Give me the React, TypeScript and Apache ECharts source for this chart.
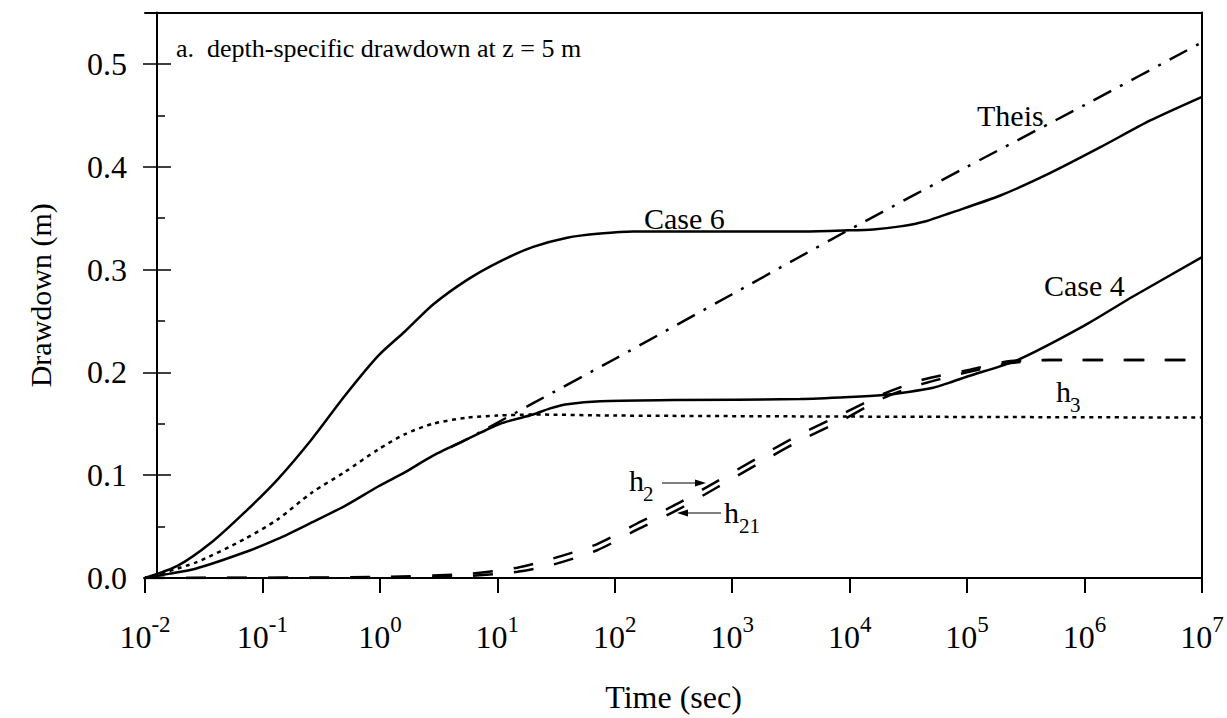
import React, { useEffect, useRef } from "react";
import * as echarts from "echarts";

// ---- data (time given as log10 of seconds, drawdown in metres) ----
const case6LogT = [-2, -1.72, -1.43, -1.15, -0.87, -0.58, -0.3, -0.015, 0.215, 0.453, 0.743, 1.024, 1.305, 1.595, 1.876, 2.157, 3.0, 3.58, 3.946, 4.2, 4.431, 4.65, 4.857, 5.283, 5.709, 6.135, 6.56, 7.0];
const case6Val = [0, 0.012, 0.035, 0.064, 0.096, 0.135, 0.177, 0.216, 0.24, 0.266, 0.29, 0.308, 0.322, 0.331, 0.335, 0.337, 0.337, 0.337, 0.338, 0.339, 0.342, 0.347, 0.355, 0.372, 0.394, 0.419, 0.445, 0.468];

const case4LogT = [-2, -1.8, -1.57, -1.15, -0.87, -0.58, -0.3, -0.015, 0.215, 0.453, 0.743, 1.024, 1.305, 1.45, 1.595, 1.876, 2.5, 3.58, 4.0, 4.286, 4.5, 4.712, 4.85, 5.002, 5.428, 5.99, 6.416, 7.0];
const case4Val = [0, 0.004, 0.009, 0.025, 0.038, 0.054, 0.07, 0.089, 0.103, 0.119, 0.135, 0.15, 0.159, 0.165, 0.169, 0.172, 0.173, 0.174, 0.176, 0.178, 0.181, 0.185, 0.19, 0.196, 0.212, 0.245, 0.274, 0.312];

const h3LogT = [-2, -1.57, -1.15, -0.87, -0.58, -0.3, -0.015, 0.215, 0.45, 0.74, 1.0, 1.3, 2.0, 4.0, 7.0];
const h3Val = [0, 0.015, 0.038, 0.057, 0.083, 0.103, 0.125, 0.14, 0.15, 0.156, 0.158, 0.159, 0.158, 0.157, 0.156];

const theisLogT = [0.6, 0.743, 1.0, 1.305, 2.0, 3.0, 3.553, 4.0, 4.116, 5.0, 6.0, 7.0];
const theisVal = [0.127, 0.135, 0.151, 0.17, 0.213, 0.276, 0.311, 0.339, 0.346, 0.4, 0.46, 0.521];

const h2LogT = [-2, 0, 0.743, 1.17, 1.475, 1.85, 2.19, 2.53, 2.87, 3.22, 3.55, 3.946, 4.286, 4.627, 5.0, 5.37, 5.71, 7.0];
const h2Val = [0, 0.001, 0.004, 0.01, 0.019, 0.033, 0.053, 0.072, 0.094, 0.117, 0.138, 0.16, 0.179, 0.193, 0.202, 0.211, 0.212, 0.212];
const h21LogT = [-2, 0, 0.743, 1.17, 1.475, 1.85, 2.19, 2.53, 2.87, 3.22, 3.55, 3.946, 4.286, 4.627, 5.0, 5.37, 5.71, 7.0];
const h21Val = [0, 0.0, 0.002, 0.006, 0.013, 0.027, 0.047, 0.066, 0.088, 0.111, 0.132, 0.154, 0.175, 0.189, 0.2, 0.209, 0.212, 0.212];

const xMinExp = -2;
const xMaxExp = 7;
const yTicks = [0, 0.1, 0.2, 0.3, 0.4, 0.5];
const yMax = 0.55;

const F = "'Liberation Serif', 'Times New Roman', serif";
const INK = "#000";

function toPairs(logT: number[], vals: number[]) {
  return logT.map((e, i) => [Math.pow(10, e), vals[i]]);
}

function lineSeries(name: string, data: number[][], type: any, width: number) {
  return {
    name,
    type: "line",
    data,
    xAxisIndex: 0,
    yAxisIndex: 0,
    showSymbol: false,
    symbol: "none",
    smooth: 0.25,
    lineStyle: { color: INK, width, type, cap: "butt" },
    silent: true,
  };
}

export default function App() {
  const ref = useRef<HTMLDivElement>(null);
  useEffect(() => {
    if (!ref.current) return;
    const chart = echarts.init(ref.current, undefined, { renderer: "svg" });
    const yCommon = {
      type: "value",
      min: yTicks[0],
      max: yMax,
      interval: 0.1,
      splitLine: { show: false },
    };
    const option: any = {
      animation: false,
      backgroundColor: "#fff",
      grid: { left: 145, right: 25, top: 12.5, bottom: 139, containLabel: false },
      xAxis: [
        {
          type: "log",
          logBase: 10,
          min: Math.pow(10, xMinExp),
          max: Math.pow(10, xMaxExp),
          interval: 1,
          position: "bottom",
          name: "Time (sec)",
          nameLocation: "middle",
          nameGap: 103,
          nameTextStyle: { fontFamily: F, fontSize: 32, color: INK },
          axisLine: { show: true, onZero: false, lineStyle: { color: INK, width: 2 } },
          axisTick: { show: true, inside: false, length: 15, lineStyle: { color: INK, width: 2 } },
          minorTick: { show: false },
          splitLine: { show: false },
          axisLabel: {
            margin: 35,
            formatter: (v: number) => `{b|10}{s|${Math.round(Math.log10(v))}}`,
            rich: {
              b: { fontFamily: F, fontSize: 32, color: INK, lineHeight: 40, verticalAlign: "bottom" },
              s: { fontFamily: F, fontSize: 23, color: INK, lineHeight: 20, verticalAlign: "top" },
            },
          },
        },
        {
          type: "log",
          logBase: 10,
          min: Math.pow(10, xMinExp),
          max: Math.pow(10, xMaxExp),
          position: "top",
          axisLine: { show: true, onZero: false, lineStyle: { color: INK, width: 2 } },
          axisTick: { show: false },
          axisLabel: { show: false },
          splitLine: { show: false },
        },
      ],
      yAxis: [
        {
          ...yCommon,
          position: "left",
          offset: -12,
          name: "Drawdown (m)",
          nameLocation: "middle",
          nameGap: 102,
          nameRotate: 90,
          nameTextStyle: { fontFamily: F, fontSize: 30, color: INK },
          axisLine: { show: true, onZero: false, lineStyle: { color: INK, width: 2 } },
          axisTick: { show: true, inside: false, length: 14, lineStyle: { color: INK, width: 1.5 } },
          axisLabel: {
            margin: 30,
            showMaxLabel: false,
            fontFamily: F,
            fontSize: 32,
            color: INK,
            formatter: (v: number) => v.toFixed(1),
          },
        },
        {
          ...yCommon,
          position: "left",
          offset: -12,
          axisLine: { show: false },
          axisTick: { show: true, inside: true, length: 14, lineStyle: { color: INK, width: 1.5 } },
          minorTick: { show: true, splitNumber: 2, length: 8, lineStyle: { color: INK, width: 1.5 } },
          axisLabel: { show: false },
        },
        {
          ...yCommon,
          position: "right",
          axisLine: { show: true, onZero: false, lineStyle: { color: INK, width: 2 } },
          axisTick: { show: false },
          axisLabel: { show: false },
        },
      ],
      series: [
        lineSeries("Case 6", toPairs(case6LogT, case6Val), "solid", 2.5),
        lineSeries("Case 4", toPairs(case4LogT, case4Val), "solid", 2.5),
        lineSeries("h3", toPairs(h3LogT, h3Val), [4, 4.5], 2.5),
        lineSeries("Theis", toPairs(theisLogT, theisVal), [20, 10, 3, 10], 2.5),
        lineSeries("h2", toPairs(h2LogT, h2Val), [20, 21], 2.5),
        lineSeries("h21", toPairs(h21LogT, h21Val), [20, 21], 2.5),
      ],
      graphic: [
        { type: "text", x: 176, y: 48, style: { text: "a.  depth-specific drawdown at z = 5 m", fontFamily: F, fontSize: 26, fill: INK, textAlign: "left", textVerticalAlign: "middle" } },
        { type: "text", x: 977, y: 115, style: { text: "Theis", fontFamily: F, fontSize: 30, fill: INK, textAlign: "left", textVerticalAlign: "middle" } },
        { type: "text", x: 644, y: 218, style: { text: "Case 6", fontFamily: F, fontSize: 30, fill: INK, textAlign: "left", textVerticalAlign: "middle" } },
        { type: "text", x: 1044, y: 285, style: { text: "Case 4", fontFamily: F, fontSize: 30, fill: INK, textAlign: "left", textVerticalAlign: "middle" } },
        { type: "text", x: 1056, y: 391, style: { text: "h", fontFamily: F, fontSize: 30, fill: INK, textAlign: "left", textVerticalAlign: "middle" } },
        { type: "text", x: 1070, y: 405, style: { text: "3", fontFamily: F, fontSize: 21, fill: INK, textAlign: "left", textVerticalAlign: "middle" } },
        { type: "text", x: 629, y: 480, style: { text: "h", fontFamily: F, fontSize: 30, fill: INK, textAlign: "left", textVerticalAlign: "middle" } },
        { type: "text", x: 643, y: 494, style: { text: "2", fontFamily: F, fontSize: 21, fill: INK, textAlign: "left", textVerticalAlign: "middle" } },
        { type: "text", x: 724, y: 512, style: { text: "h", fontFamily: F, fontSize: 30, fill: INK, textAlign: "left", textVerticalAlign: "middle" } },
        { type: "text", x: 739, y: 526, style: { text: "21", fontFamily: F, fontSize: 21, fill: INK, textAlign: "left", textVerticalAlign: "middle" } },
        { type: "line", shape: { x1: 662, y1: 483, x2: 700, y2: 483 }, style: { stroke: INK, lineWidth: 1.2 } },
        { type: "polygon", shape: { points: [[706, 483], [695, 479.5], [695, 486.5]] }, style: { fill: INK } },
        { type: "line", shape: { x1: 721, y1: 513, x2: 684, y2: 513 }, style: { stroke: INK, lineWidth: 1.2 } },
        { type: "polygon", shape: { points: [[677, 513], [688, 509.5], [688, 516.5]] }, style: { fill: INK } },
      ],
    };
    chart.setOption(option);
    return () => chart.dispose();
  }, []);
  return (
    <div
      ref={ref}
      style={{ position: "absolute", left: 0, top: 0, width: 1227, height: 718, background: "#fff" }}
    />
  );
}
